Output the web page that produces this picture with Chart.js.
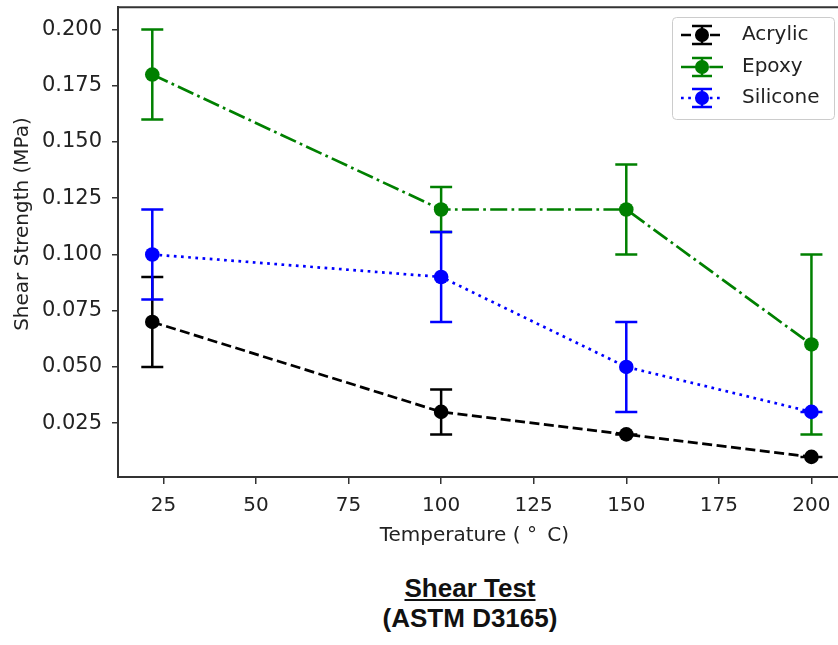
<!DOCTYPE html>
<html>
<head>
<meta charset="utf-8">
<script src="https://cdn.jsdelivr.net/npm/chart.js@4.4.0/dist/chart.umd.min.js"></script>
<style>
  body{margin:0;background:#fff;width:838px;height:645px;overflow:hidden;position:relative;}
  #wrap{position:absolute;left:0;top:0;width:838px;height:560px;}
  .cap{position:absolute;left:470px;transform:translateX(-50%);font-family:"Liberation Sans",Arial,sans-serif;font-weight:bold;font-size:26px;line-height:30px;color:#111;white-space:nowrap;}
</style>
</head>
<body>
<div id="wrap"><canvas id="shearChart"></canvas></div>
<div class="cap" style="top:573px;text-decoration:underline;">Shear Test</div>
<div class="cap" style="top:603px;">(ASTM D3165)</div>
<script>
// ===== Data =====
const temps = [22, 100, 150, 200];
const acrylic = [0.07, 0.03, 0.02, 0.01];
const acrylicErr = [0.02, 0.01, 0, 0];
const epoxy = [0.18, 0.12, 0.12, 0.06];
const epoxyErr = [0.02, 0.01, 0.02, 0.04];
const silicone = [0.10, 0.09, 0.05, 0.03];
const siliconeErr = [0.02, 0.02, 0.02, 0];
const xTicks = [25, 50, 75, 100, 125, 150, 175, 200];
const yTicks = [0.025, 0.050, 0.075, 0.100, 0.125, 0.150, 0.175, 0.200];
const yLabel = 'Shear Strength (MPa)';

const FONT = "'DejaVu Sans'";
Chart.defaults.font.family = FONT;
Chart.defaults.font.size = 20;
Chart.defaults.color = '#222';

function pts(vals){
  return temps.map((t,i)=>({x:t, y:vals[i]}));
}

// dash patterns like matplotlib at lw ~2.7
const DASHED = [10, 4.5];
const DASHDOT = [17, 4.3, 2.7, 4.3];
const DOTTED = [2.7, 4.5];

function series(label, vals, err, color, dash, order){
  return {
    label, data:pts(vals), err, dash,
    borderColor:color, backgroundColor:color,
    borderWidth:2.7, borderDash:dash,
    pointRadius:7.3, pointHoverRadius:7.3,
    pointBackgroundColor:color, pointBorderColor:color, pointBorderWidth:0,
    tension:0, fill:false, order
  };
}

// ===== Error bars (drawn under the lines, like matplotlib) =====
const errorBars = {
  id:'errorBars',
  beforeDatasetsDraw(chart){
    const {ctx, scales:{x, y}} = chart;
    chart.data.datasets.forEach(ds=>{
      ctx.save();
      ctx.strokeStyle = ds.borderColor;
      ctx.lineWidth = 2.5;
      ds.data.forEach((p,i)=>{
        const px = x.getPixelForValue(p.x);
        const lo = y.getPixelForValue(p.y - ds.err[i]);
        const hi = y.getPixelForValue(p.y + ds.err[i]);
        ctx.beginPath();
        ctx.moveTo(px, lo); ctx.lineTo(px, hi);
        ctx.moveTo(px-11, lo); ctx.lineTo(px+11, lo);
        ctx.moveTo(px-11, hi); ctx.lineTo(px+11, hi);
        ctx.stroke();
      });
      ctx.restore();
    });
  }
};

// ===== Spines running off the right edge, y label, legend box =====
const frameAndLegend = {
  id:'frameAndLegend',
  afterDraw(chart){
    const {ctx, chartArea:a, width} = chart;
    ctx.save();
    ctx.strokeStyle = '#333';
    ctx.lineWidth = 2;
    ctx.beginPath();
    ctx.moveTo(a.left-1, a.top); ctx.lineTo(width, a.top);
    ctx.moveTo(a.right-1, a.bottom); ctx.lineTo(width, a.bottom);
    ctx.stroke();

    // y axis label (sits a bit above the axes centre in the original)
    ctx.save();
    ctx.translate(23, 224);
    ctx.rotate(-Math.PI/2);
    ctx.fillStyle = '#222';
    ctx.font = '20px ' + FONT;
    ctx.textAlign = 'center';
    ctx.textBaseline = 'middle';
    ctx.fillText(yLabel, 0, 0);
    ctx.restore();

    // legend
    const bx = 672, by = 17, bw = 162, bh = 102;
    ctx.fillStyle = 'rgba(255,255,255,0.85)';
    ctx.strokeStyle = '#cccccc';
    ctx.lineWidth = 1;
    ctx.beginPath();
    ctx.roundRect(bx+0.5, by+0.5, bw, bh, 4);
    ctx.fill(); ctx.stroke();

    const rowsY = [35, 67, 98];
    chart.data.datasets.forEach((ds,k)=>{
      const cy = rowsY[k], cx = 702;
      ctx.strokeStyle = ds.borderColor;
      ctx.lineWidth = 2.7;
      ctx.setLineDash(ds.dash);
      ctx.beginPath(); ctx.moveTo(681, cy); ctx.lineTo(723, cy); ctx.stroke();
      ctx.setLineDash([]);
      ctx.lineWidth = 2.5;
      ctx.beginPath();
      ctx.moveTo(cx, cy-9); ctx.lineTo(cx, cy+9);
      ctx.moveTo(cx-10, cy-9); ctx.lineTo(cx+10, cy-9);
      ctx.moveTo(cx-10, cy+9); ctx.lineTo(cx+10, cy+9);
      ctx.stroke();
      ctx.fillStyle = ds.borderColor;
      ctx.beginPath(); ctx.arc(cx, cy, 7, 0, Math.PI*2); ctx.fill();
      ctx.fillStyle = '#222';
      ctx.font = '20px ' + FONT;
      ctx.textBaseline = 'middle';
      ctx.fillText(ds.label, 742, cy);
    });
    ctx.restore();
  }
};

new Chart(document.getElementById('shearChart'), {
  type:'line',
  data:{
    datasets:[
      series('Acrylic', acrylic, acrylicErr, '#000000', DASHED, 3),
      series('Epoxy', epoxy, epoxyErr, '#008000', DASHDOT, 2),
      series('Silicone', silicone, siliconeErr, '#0000ff', DOTTED, 1)
    ]
  },
  options:{
    responsive:true, maintainAspectRatio:false, animation:false,
    layout:{padding:{left:0, right:1, top:6, bottom:0}},
    plugins:{legend:{display:false}, tooltip:{enabled:false}},
    scales:{
      x:{
        type:'linear', min:12.74, max:205.2, bounds:'data',
        afterBuildTicks:s=>{ s.ticks = xTicks.map(v=>({value:v})); },
        afterFit:s=>{ s.height = 83; s.paddingLeft = 0; s.paddingRight = 0; },
        ticks:{padding:10, autoSkip:false, maxRotation:0, callback:v=>String(v)},
        grid:{drawOnChartArea:false, tickLength:7, color:'#333', lineWidth:1.5},
        border:{color:'#333', width:2},
        title:{display:true, text:'Temperature ( \u00B0 \u2009C)', padding:{top:0, bottom:12}}
      },
      y:{
        type:'linear', min:0.00106, max:0.2099, bounds:'data',
        afterBuildTicks:s=>{ s.ticks = yTicks.map(v=>({value:v})); },
        afterFit:s=>{ s.width = 118; s.paddingTop = 0; s.paddingBottom = 0; },
        ticks:{padding:10, autoSkip:false, font:{size:21}, callback:v=>v.toFixed(3)},
        grid:{drawOnChartArea:false, tickLength:6, color:'#333', lineWidth:1.5},
        border:{color:'#333', width:2},
        title:{display:false}
      }
    }
  },
  plugins:[errorBars, frameAndLegend]
});
</script>
</body>
</html>
